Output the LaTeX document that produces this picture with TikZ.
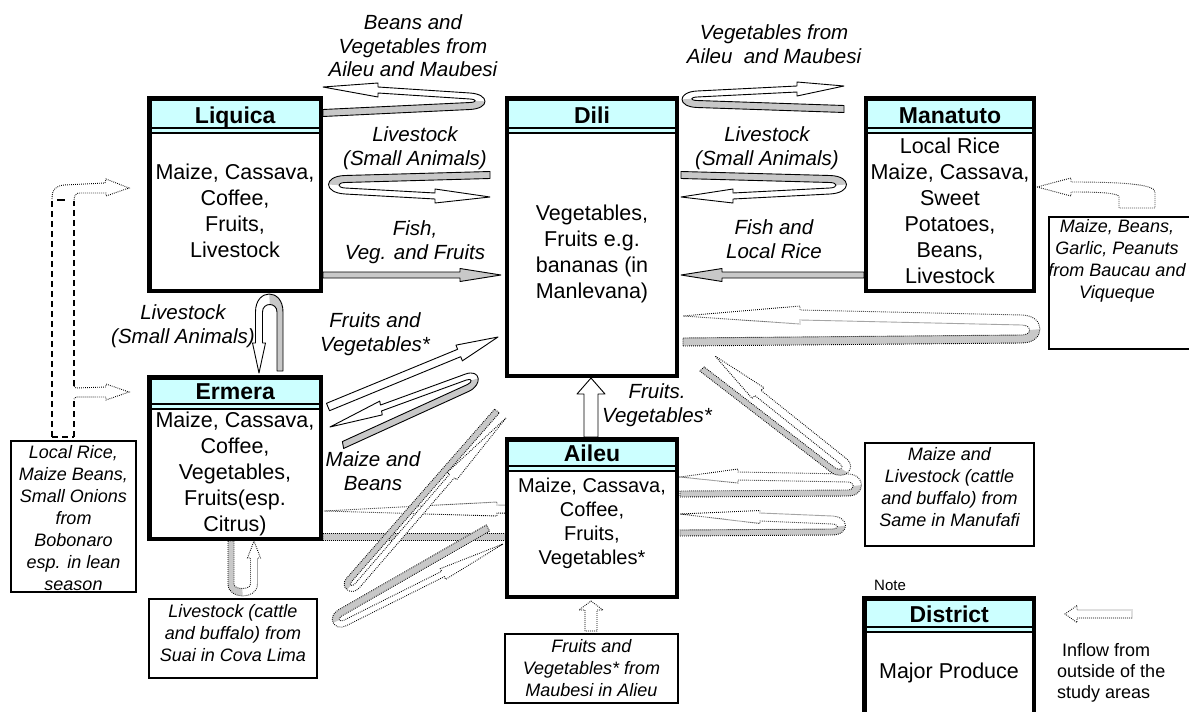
\documentclass[tikz,border=0pt]{standalone}
\usepackage{fontspec}
\setmainfont{Liberation Sans}
\usetikzlibrary{calc}
\definecolor{hdr}{HTML}{CCFFFF}
\definecolor{bandgrey}{HTML}{C8C8C8}
\tikzset{
 boxline/.style={line width=4.4pt},
 hfont/.style={font=\fontsize{23}{26}\selectfont\bfseries, inner sep=0pt, anchor=base},
 body/.style={font=\fontsize{21.5}{26}\selectfont, align=center, inner sep=0pt},
 bodysm/.style={font=\fontsize{20}{24}\selectfont, align=center, inner sep=0pt},
 lab/.style={font=\fontsize{20.5}{23.5}\selectfont\itshape, align=center, inner sep=0pt},
 sidebox/.style={draw, line width=1.5pt, fill=white, inner sep=0pt},
 sidetext/.style={font=\fontsize{18}{22}\selectfont\itshape, align=center, inner sep=0pt},
 notetext/.style={font=\fontsize{18}{21}\selectfont, align=left, inner sep=0pt},
 solidline/.style={draw=black, line width=0.9pt, line join=round},
 dotline/.style={draw=black, line width=0.9pt, dash pattern=on 0.8pt off 1.2pt},
 dashline/.style={draw=black, line width=1.3pt, dash pattern=on 6pt off 4pt},
}
% U-turn arrow: uses coordinates ug0 ug1 uw1 uhb utip
\newcommand\uturn[6]{%
  \path ($(ug1)!#2!(uw1)$) coordinate (uGi)
        ($(ug1)!-#2!(uw1)$) coordinate (uGo)
        ($(uw1)!#3!(ug1)$) coordinate (uWi)
        ($(uw1)!-#3!(ug1)$) coordinate (uWo)
        ($(ug1)!-#5!(ug0)$) coordinate (ue1)
        ($(uw1)!-#5!(uhb)$) coordinate (ue2)
        ($(ug1)!-#6!(ug0)$) coordinate (uf1)
        ($(uw1)!-#6!(uhb)$) coordinate (uf2);
  \path ($(ug0)+(uGi)-(ug1)$) coordinate (ugi)
        ($(ug0)+(uGo)-(ug1)$) coordinate (ugo)
        ($(uhb)+(uWi)-(uw1)$) coordinate (uhi)
        ($(uhb)+(uWo)-(uw1)$) coordinate (uho)
        ($(uGo)+(ue1)-(ug1)$) coordinate (uco1)
        ($(uWo)+(ue2)-(uw1)$) coordinate (uco2)
        ($(uGi)+(uf1)-(ug1)$) coordinate (uci1)
        ($(uWi)+(uf2)-(uw1)$) coordinate (uci2);
  \path ($(uhb)!#4!(uhi)$) coordinate (uHi)
        ($(uhb)!#4!(uho)$) coordinate (uHo);
  % half-loop split points for the grey underside
  \path ($0.125*(uGo)+0.375*(uco1)+0.375*(uco2)+0.125*(uWo)$) coordinate (umo)
        ($0.5*(uGo)+0.5*(uco1)$) coordinate (ua1)
        ($0.25*(uGo)+0.5*(uco1)+0.25*(uco2)$) coordinate (ua2)
        ($0.125*(uWi)+0.375*(uci2)+0.375*(uci1)+0.125*(uGi)$) coordinate (umi)
        ($0.25*(uci2)+0.5*(uci1)+0.25*(uGi)$) coordinate (ub1)
        ($0.5*(uci1)+0.5*(uGi)$) coordinate (ub2);
  \fill[white] (ugo) -- (uGo) .. controls (uco1) and (uco2) .. (uWo) -- (uho) -- (uHo) -- (utip) -- (uHi) -- (uhi) -- (uWi) .. controls (uci2) and (uci1) .. (uGi) -- (ugi) -- cycle;
  \fill[bandgrey] (ugo) -- (uGo) .. controls (ua1) and (ua2) .. (umo) -- (umi) .. controls (ub1) and (ub2) .. (uGi) -- (ugi) -- cycle;
  \draw[#1] (ugo) -- (uGo) .. controls (uco1) and (uco2) .. (uWo) -- (uho) -- (uHo) -- (utip) -- (uHi) -- (uhi) -- (uWi) .. controls (uci2) and (uci1) .. (uGi) -- (ugi) -- cycle;
}
% straight block arrow
\newcommand\blockarrow[6]{%
  \path ($(#3)!#6!(#2)$) coordinate (bac);
  \draw[#1] ($(#2)!#4!90:(#3)$) -- ($(bac)!#4!90:(#3)$) -- ($(bac)!#5!90:(#3)$) -- (#3) -- ($(bac)!#5!-90:(#3)$) -- ($(bac)!#4!-90:(#3)$) -- ($(#2)!#4!-90:(#3)$) -- cycle;
}
% district box
\newcommand\dbox[7]{%
  \fill[white] (#2,#3) rectangle (#4,#5);
  \fill[hdr] (#2,#3) rectangle (#4,#6+5);
  \draw[line width=2.6pt] (#2,#6) -- (#4,#6);
  \draw[line width=2pt] (#2,#6+5) -- (#4,#6+5);
  \draw[boxline] (#2,#3) rectangle (#4,#5);
  \node[hfont] (#1) at ({(#2+#4)/2},{#6-4.5}) {#7};
}
\begin{document}
\begin{tikzpicture}[x=1pt,y=-1pt]
\useasboundingbox (0,0) rectangle (1189,712);
\clip (0,0) rectangle (1189,712);
\fill[white] (0,0) rectangle (1189,712);

% ---------- U-turn arrows ----------
% Liquica - Dili top
\coordinate (ug0) at (323,113); \coordinate (ug1) at (470,106); \coordinate (uw1) at (470,96);
\coordinate (uhb) at (378,90); \coordinate (utip) at (323,87);
\uturn{solidline}{3.5pt}{3pt}{7pt}{20pt}{7pt}
% Dili - Manatuto top
\coordinate (ug0) at (844,109); \coordinate (ug1) at (697,104); \coordinate (uw1) at (697,94);
\coordinate (uhb) at (797,89); \coordinate (utip) at (844,86);
\uturn{solidline}{3.5pt}{3pt}{7pt}{20pt}{7pt}
% Liquica - Dili livestock
\coordinate (ug0) at (490,175); \coordinate (ug1) at (345,179); \coordinate (uw1) at (345,191);
\coordinate (uhb) at (435,196); \coordinate (utip) at (490,197);
\uturn{solidline}{3.5pt}{3pt}{7pt}{22pt}{8pt}
% Dili - Manatuto livestock
\coordinate (ug0) at (681,175); \coordinate (ug1) at (830,179); \coordinate (uw1) at (830,191);
\coordinate (uhb) at (733,196); \coordinate (utip) at (681,197);
\uturn{solidline}{3.5pt}{3pt}{7pt}{22pt}{8pt}
% Liquica - Ermera livestock
\coordinate (ug0) at (280,371); \coordinate (ug1) at (280,312); \coordinate (uw1) at (259,312);
\coordinate (uhb) at (259,343); \coordinate (utip) at (259,373);
\uturn{solidline}{3pt}{3.5pt}{6.5pt}{24pt}{10pt}
% Dili - Ermera maize and beans
\coordinate (ug0) at (343,445); \coordinate (ug1) at (468,388); \coordinate (uw1) at (466,377);
\coordinate (uhb) at (381,408); \coordinate (utip) at (330,427);
\uturn{solidline}{3.5pt}{3pt}{7pt}{16pt}{6pt}
% Baucau inflow to Dili
\coordinate (ug0) at (683,342); \coordinate (ug1) at (1022,339); \coordinate (uw1) at (1022,320);
\coordinate (uhb) at (800,315); \coordinate (utip) at (683,316);
\uturn{dotline}{4pt}{5pt}{9pt}{24pt}{10pt}
% Manufafi inflow to Aileu (upper)
\coordinate (ug0) at (680,494); \coordinate (ug1) at (848,493); \coordinate (uw1) at (848,478);
\coordinate (uhb) at (738,476); \coordinate (utip) at (680,477);
\uturn{dotline}{3pt}{4pt}{7pt}{18pt}{7pt}
% Manufafi inflow to Aileu (lower)
\coordinate (ug0) at (680,533); \coordinate (ug1) at (832,532); \coordinate (uw1) at (832,520);
\coordinate (uhb) at (760,517); \coordinate (utip) at (680,514);
\uturn{dotline}{3pt}{4pt}{6.5pt}{18pt}{7pt}
% Manufafi inflow to Dili (diagonal)
\coordinate (ug0) at (702,369); \coordinate (ug1) at (833,470); \coordinate (uw1) at (843,461);
\coordinate (uhb) at (758,393); \coordinate (utip) at (715,356);
\uturn{dotline}{3pt}{4pt}{8pt}{16pt}{6pt}
% Aileu side inflow to Ermera (loop behind Aileu)
\coordinate (ug0) at (323,537); \coordinate (ug1) at (540,537); \coordinate (uw1) at (540,510);
\coordinate (uhb) at (497,509); \coordinate (utip) at (324,511);
\uturn{dotline}{3.5pt}{4pt}{7pt}{10pt}{5pt}
% Suai inflow to Ermera
\coordinate (ug0) at (231,541); \coordinate (ug1) at (231,584); \coordinate (uw1) at (254,584);
\coordinate (uhb) at (254,558); \coordinate (utip) at (254,541);
\uturn{dotline}{3pt}{3.5pt}{6.5pt}{16pt}{6pt}
% Suai inflow to Dili (diagonal upper)
\coordinate (ug0) at (497,411); \coordinate (ug1) at (349,580); \coordinate (uw1) at (357,586);
\coordinate (uhb) at (452,476); \coordinate (utip) at (506,418);
\uturn{dotline}{3pt}{3pt}{6pt}{12pt}{4pt}
% Suai inflow to Aileu (diagonal lower)
\coordinate (ug0) at (488,528); \coordinate (ug1) at (340,613); \coordinate (uw1) at (345,623);
\coordinate (uhb) at (443,574); \coordinate (utip) at (503,544);
\uturn{dotline}{3.5pt}{3pt}{6pt}{14pt}{5pt}

% ---------- straight block arrows ----------
\coordinate (liq-out) at (323,275); \coordinate (dili-in1) at (501,275);
\blockarrow{solidline, fill=bandgrey}{liq-out}{dili-in1}{3pt}{6.5pt}{41pt}
\coordinate (man-out) at (864,275); \coordinate (dili-in2) at (681,275);
\blockarrow{solidline, fill=bandgrey}{man-out}{dili-in2}{3pt}{6.5pt}{41pt}
\coordinate (erm-out) at (328,407); \coordinate (dili-in3) at (498,337);
\blockarrow{solidline, fill=white}{erm-out}{dili-in3}{4pt}{8.5pt}{42pt}
\coordinate (ail-out) at (591,437); \coordinate (dili-in4) at (591,378);
\blockarrow{solidline, fill=white}{ail-out}{dili-in4}{7pt}{14pt}{16pt}
\coordinate (mau-out) at (591,631); \coordinate (ail-in) at (591,601);
\blockarrow{dotline, fill=white}{mau-out}{ail-in}{6pt}{12pt}{9pt}
\coordinate (leg-out) at (1132,614); \coordinate (leg-in) at (1065,614);
\blockarrow{dotline, fill=white}{leg-out}{leg-in}{4pt}{8.5pt}{12pt}

% ---------- Bobonaro branching arrow ----------
\draw[dashline] (52,437) -- (52,199);
\draw[dashline] (74,437) -- (74,399);
\draw[dashline] (74,386) -- (74,201);
\draw[dashline] (52,437) -- (74,437);
\draw[line width=1.3pt] (57,200) -- (65,200);
\draw[dotline] (52,199) .. controls (52,189) and (56,186) .. (64,185) -- (105,183) -- (106,179) -- (129,188) -- (106,196) -- (106,193) -- (80,193) .. controls (76,193) and (74,195) .. (74,201);
\draw[dotline] (74,386) -- (76,388) -- (106,387) -- (106,384) -- (129,392) -- (106,400) -- (106,397) -- (76,397) -- (74,399);

% ---------- Baucau bent arrow ----------
\draw[dotline, fill=white] (1037,187) -- (1071,178) -- (1071,182) .. controls (1120,182) and (1155,184) .. (1155,192) -- (1155,208) -- (1119,208) -- (1119,197) .. controls (1119,193) and (1100,192) .. (1071,192) -- (1071,196) -- cycle;

% ---------- district boxes ----------
\dbox{liquica}{149.5}{98.5}{321}{291}{128}{Liquica}
\node[body] (liquica-body) at (235,211) {Maize, Cassava,\\Coffee,\\Fruits,\\Livestock};
\dbox{dili}{507}{98.5}{677}{376}{128}{Dili}
\node[body] (dili-body) at (592,254) {Vegetables,\\Fruits e.g.\\bananas (in\\Manlevana)};
\dbox{manatuto}{866}{98.5}{1034}{291}{128}{Manatuto}
\node[body] (manatuto-body) at (950,211) {Local Rice\\Maize, Cassava,\\Sweet\\Potatoes,\\Beans,\\Livestock};
\dbox{ermera}{149.5}{377.5}{321}{539}{404}{Ermera}
\node[body] (ermera-body) at (235,474) {Maize, Cassava,\\Coffee,\\Vegetables,\\Fruits(esp.\\Citrus)};
\dbox{aileu}{507}{439.5}{677}{597}{466}{Aileu}
\node[bodysm] (aileu-body) at (592,523) {Maize, Cassava,\\Coffee,\\Fruits,\\Vegetables*};
\dbox{district}{864.5}{598.5}{1034}{720}{627}{District}
\node[body] (district-body) at (949,673) {Major Produce};

% ---------- side boxes ----------
\node[sidebox, minimum width=125pt, minimum height=151pt] (bobonaro) at (73.5,516.5) {};
\node[sidetext] (bobonaro-text) at (73.5,518.5) {Local Rice,\\Maize Beans,\\Small Onions\\from\\Bobonaro\\esp. in lean\\season};
\node[sidebox, minimum width=168pt, minimum height=79pt] (suai) at (233,638.5) {};
\node[sidetext] (suai-text) at (233,633.5) {Livestock (cattle\\and buffalo) from\\Suai in Cova Lima};
\node[sidebox, minimum width=173pt, minimum height=69pt] (maubesi) at (591.5,668.5) {};
\node[sidetext] (maubesi-text) at (591.5,668) {Fruits and\\Vegetables* from\\Maubesi in Alieu};
\node[sidebox, minimum width=169pt, minimum height=103pt] (manufafi) at (949.5,494.5) {};
\node[sidetext] (manufafi-text) at (949.5,487) {Maize and\\Livestock (cattle\\and buffalo) from\\Same in Manufafi};
\node[sidebox, minimum width=161pt, minimum height=132pt] (baucau) at (1129.5,283) {};
\node[sidetext] (baucau-text) at (1117,260.5) {Maize, Beans,\\Garlic, Peanuts\\from Baucau and\\Viqueque};

% ---------- flow labels ----------
\node[lab] (lbl-beans) at (413,46) {Beans and\\Vegetables from\\Aileu and Maubesi};
\node[lab] (lbl-vegfrom) at (774,44) {Vegetables from\\Aileu\ \ and Maubesi};
\node[lab] (lbl-ls1) at (415,148) {Livestock\\(Small Animals)};
\node[lab] (lbl-ls2) at (767,148) {Livestock\\(Small Animals)};
\node[lab] (lbl-fish1) at (415,242) {Fish,\\Veg. and Fruits};
\node[lab] (lbl-fish2) at (774,239) {Fish and\\Local Rice};
\node[lab] (lbl-ls3) at (183,326) {Livestock\\(Small Animals)};
\node[lab] (lbl-fv) at (375,334) {Fruits and\\Vegetables*};
\node[lab] (lbl-mb) at (373,471) {Maize and\\Beans};
\node[lab] (lbl-fv2) at (657,405) {Fruits.\\Vegetables*};

% ---------- legend ----------
\node[anchor=west, font=\fontsize{15}{18}\selectfont, inner sep=0pt] (note) at (874,585) {Note};
\node[notetext, anchor=west] (inflow) at (1057,673) {\hspace*{5pt}Inflow from\\outside of the\\study areas};
\end{tikzpicture}
\end{document}
